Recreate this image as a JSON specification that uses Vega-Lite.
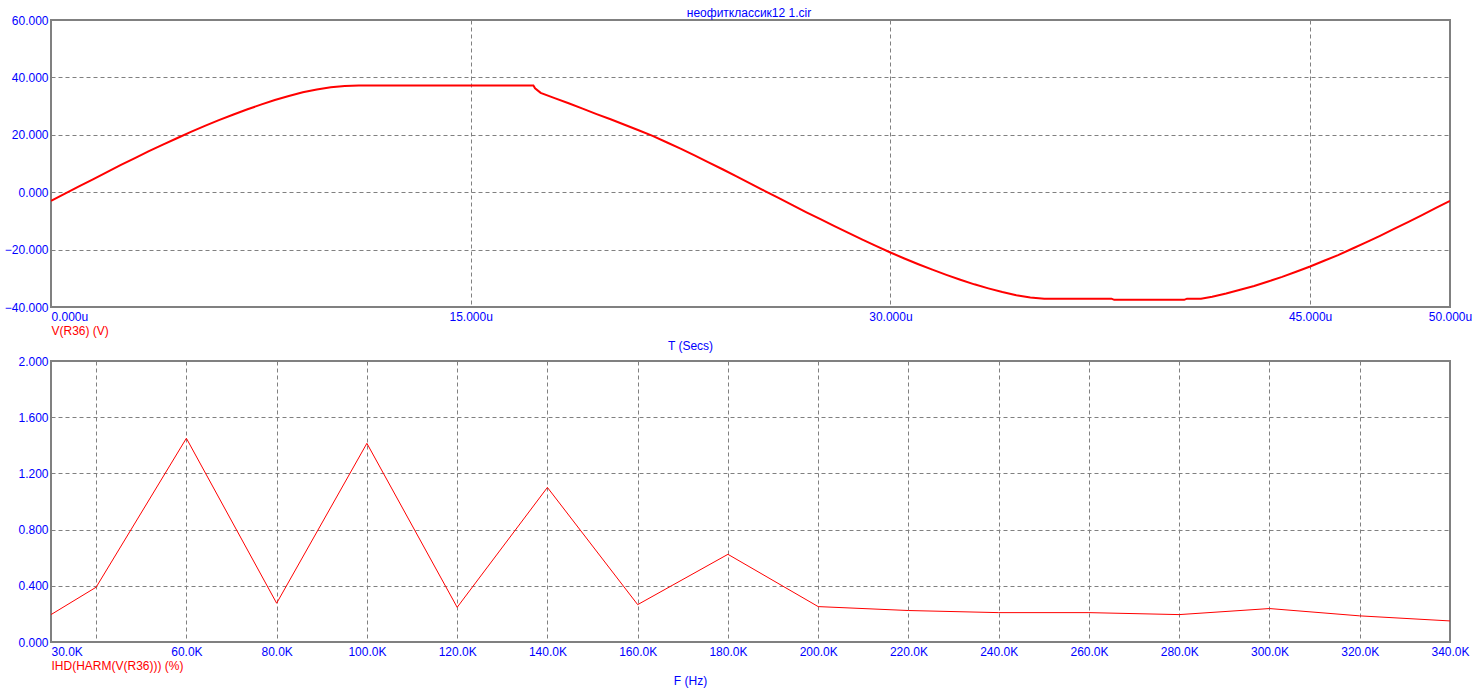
{
  "$schema": "https://vega.github.io/schema/vega-lite/v6.json",
  "background": "white",
  "padding": {"left": 3, "top": 7, "right": 10, "bottom": 5},
  "title": {"text": "неофитклассик12 1.cir", "anchor": "middle", "font": "Liberation Sans", "fontSize": 12, "fontWeight": "normal", "color": "#0000ff", "offset": -7, "dx": 11},
  "datasets": {
    "transient": [
      {"t": 0, "v": -3.0}, {"t": 0.5, "v": -0.5}, {"t": 1, "v": 2.0}, {"t": 1.5, "v": 4.5},
      {"t": 2, "v": 7.0}, {"t": 2.5, "v": 9.5}, {"t": 3, "v": 11.9}, {"t": 3.5, "v": 14.3},
      {"t": 4, "v": 16.6}, {"t": 4.5, "v": 18.8}, {"t": 5, "v": 21.0}, {"t": 5.5, "v": 23.1},
      {"t": 6, "v": 25.1}, {"t": 6.5, "v": 27.0}, {"t": 7, "v": 28.8}, {"t": 7.5, "v": 30.5},
      {"t": 8, "v": 32.1}, {"t": 8.5, "v": 33.5}, {"t": 9, "v": 34.8}, {"t": 9.5, "v": 35.8},
      {"t": 10, "v": 36.6}, {"t": 10.5, "v": 37.0}, {"t": 11, "v": 37.2}, {"t": 14, "v": 37.2},
      {"t": 17.24, "v": 37.2}, {"t": 17.3, "v": 36.2}, {"t": 17.5, "v": 34.6}, {"t": 18, "v": 32.8},
      {"t": 18.5, "v": 31.0}, {"t": 19, "v": 29.1}, {"t": 19.5, "v": 27.2}, {"t": 20, "v": 25.4},
      {"t": 20.5, "v": 23.5}, {"t": 21, "v": 21.6}, {"t": 21.5, "v": 19.6}, {"t": 22, "v": 17.4},
      {"t": 22.5, "v": 15.2}, {"t": 23, "v": 12.8}, {"t": 23.5, "v": 10.4}, {"t": 24, "v": 8.0},
      {"t": 24.5, "v": 5.5}, {"t": 25, "v": 3.0}, {"t": 25.5, "v": 0.5}, {"t": 26, "v": -2.0},
      {"t": 26.5, "v": -4.5}, {"t": 27, "v": -7.0}, {"t": 27.5, "v": -9.4}, {"t": 28, "v": -11.8},
      {"t": 28.5, "v": -14.2}, {"t": 29, "v": -16.5}, {"t": 29.5, "v": -18.8}, {"t": 30, "v": -21.0},
      {"t": 30.5, "v": -23.1}, {"t": 31, "v": -25.1}, {"t": 31.5, "v": -27.0}, {"t": 32, "v": -28.8},
      {"t": 32.5, "v": -30.5}, {"t": 33, "v": -32.1}, {"t": 33.5, "v": -33.5}, {"t": 34, "v": -34.8},
      {"t": 34.5, "v": -35.9}, {"t": 35, "v": -36.7}, {"t": 35.5, "v": -37.1}, {"t": 37.9, "v": -37.1},
      {"t": 38, "v": -37.5}, {"t": 40.5, "v": -37.5}, {"t": 40.6, "v": -37.1}, {"t": 41.1, "v": -37.1},
      {"t": 41.5, "v": -36.4}, {"t": 42, "v": -35.3}, {"t": 42.5, "v": -34.0}, {"t": 43, "v": -32.7},
      {"t": 43.5, "v": -31.1}, {"t": 44, "v": -29.5}, {"t": 44.5, "v": -27.7}, {"t": 45, "v": -25.9},
      {"t": 45.5, "v": -23.9}, {"t": 46, "v": -21.9}, {"t": 46.5, "v": -19.7}, {"t": 47, "v": -17.5},
      {"t": 47.5, "v": -15.2}, {"t": 48, "v": -12.8}, {"t": 48.5, "v": -10.4}, {"t": 49, "v": -8.0},
      {"t": 49.5, "v": -5.5}, {"t": 50, "v": -3.0}
    ],
    "harmonics": [
      {"f": 20000, "ihd": 0.0}, {"f": 40000, "ihd": 0.39}, {"f": 60000, "ihd": 1.45},
      {"f": 80000, "ihd": 0.276}, {"f": 100000, "ihd": 1.414}, {"f": 120000, "ihd": 0.247},
      {"f": 140000, "ihd": 1.10}, {"f": 160000, "ihd": 0.266}, {"f": 180000, "ihd": 0.624},
      {"f": 200000, "ihd": 0.252}, {"f": 220000, "ihd": 0.224}, {"f": 240000, "ihd": 0.209},
      {"f": 260000, "ihd": 0.209}, {"f": 280000, "ihd": 0.195}, {"f": 300000, "ihd": 0.238},
      {"f": 320000, "ihd": 0.186}, {"f": 340000, "ihd": 0.15}
    ]
  },
  "spacing": 1,
  "vconcat": [
    {
      "width": 1399,
      "height": 287,
      "title": {"text": "T (Secs)", "orient": "bottom", "anchor": "middle", "font": "Liberation Sans", "fontSize": 12, "fontWeight": "normal", "color": "#0000ff", "offset": 5, "dx": -60},
      "data": {"name": "transient"},
      "mark": {"type": "line", "color": "#ff0000", "strokeWidth": 2, "clip": true},
      "encoding": {
        "x": {
          "field": "t", "type": "quantitative",
          "scale": {"domain": [0, 50], "nice": false, "zero": false},
          "axis": {
            "values": [0, 15, 30, 45, 50],
            "labelExpr": "format(datum.value, '.3f') + 'u'",
            "labelFlush": false,
            "labelOverlap": false,
            "labelAlign": {"condition": {"test": "datum.value == 0", "value": "left"}, "value": "center"},
            "labelPadding": 4,
            "title": "V(R36) (V)",
            "titleColor": "#ff0000",
            "titleAnchor": "start",
            "titleAlign": "left",
            "titlePadding": 3
          }
        },
        "y": {
          "field": "v", "type": "quantitative",
          "scale": {"domain": [-40, 60], "nice": false, "zero": false},
          "axis": {"values": [-40, -20, 0, 20, 40, 60], "format": ".3f", "title": null, "labelPadding": 3}
        }
      }
    },
    {
      "width": 1399,
      "height": 281,
      "title": {"text": "F (Hz)", "orient": "bottom", "anchor": "middle", "font": "Liberation Sans", "fontSize": 12, "fontWeight": "normal", "color": "#0000ff", "offset": 5, "dx": -60},
      "data": {"name": "harmonics"},
      "mark": {"type": "line", "color": "#ff0000", "strokeWidth": 1, "clip": true},
      "encoding": {
        "x": {
          "field": "f", "type": "quantitative",
          "scale": {"domain": [30000, 340000], "nice": false, "zero": false},
          "axis": {
            "values": [30000, 40000, 60000, 80000, 100000, 120000, 140000, 160000, 180000, 200000, 220000, 240000, 260000, 280000, 300000, 320000, 340000],
            "labelExpr": "datum.value == 40000 ? '' : format(datum.value / 1000, '.1f') + 'K'",
            "labelFlush": false,
            "labelOverlap": false,
            "labelAlign": {"condition": {"test": "datum.value == 30000", "value": "left"}, "value": "center"},
            "labelPadding": 4,
            "title": "IHD(HARM(V(R36))) (%)",
            "titleColor": "#ff0000",
            "titleAnchor": "start",
            "titleAlign": "left",
            "titlePadding": 3
          }
        },
        "y": {
          "field": "ihd", "type": "quantitative",
          "scale": {"domain": [0, 2], "nice": false, "zero": false},
          "axis": {"values": [0, 0.4, 0.8, 1.2, 1.6, 2.0], "format": ".3f", "title": null, "labelPadding": 3}
        }
      }
    }
  ],
  "config": {
    "view": {"stroke": "#808080", "strokeWidth": 2},
    "axis": {
      "labelFont": "Liberation Sans",
      "labelFontSize": 12,
      "labelColor": "#0000ff",
      "titleFont": "Liberation Sans",
      "titleFontSize": 12,
      "titleFontWeight": "normal",
      "domain": false,
      "ticks": false,
      "grid": true,
      "gridColor": "#808080",
      "gridDash": [4, 3],
      "gridWidth": 1,
      "gridOpacity": 1
    }
  }
}
